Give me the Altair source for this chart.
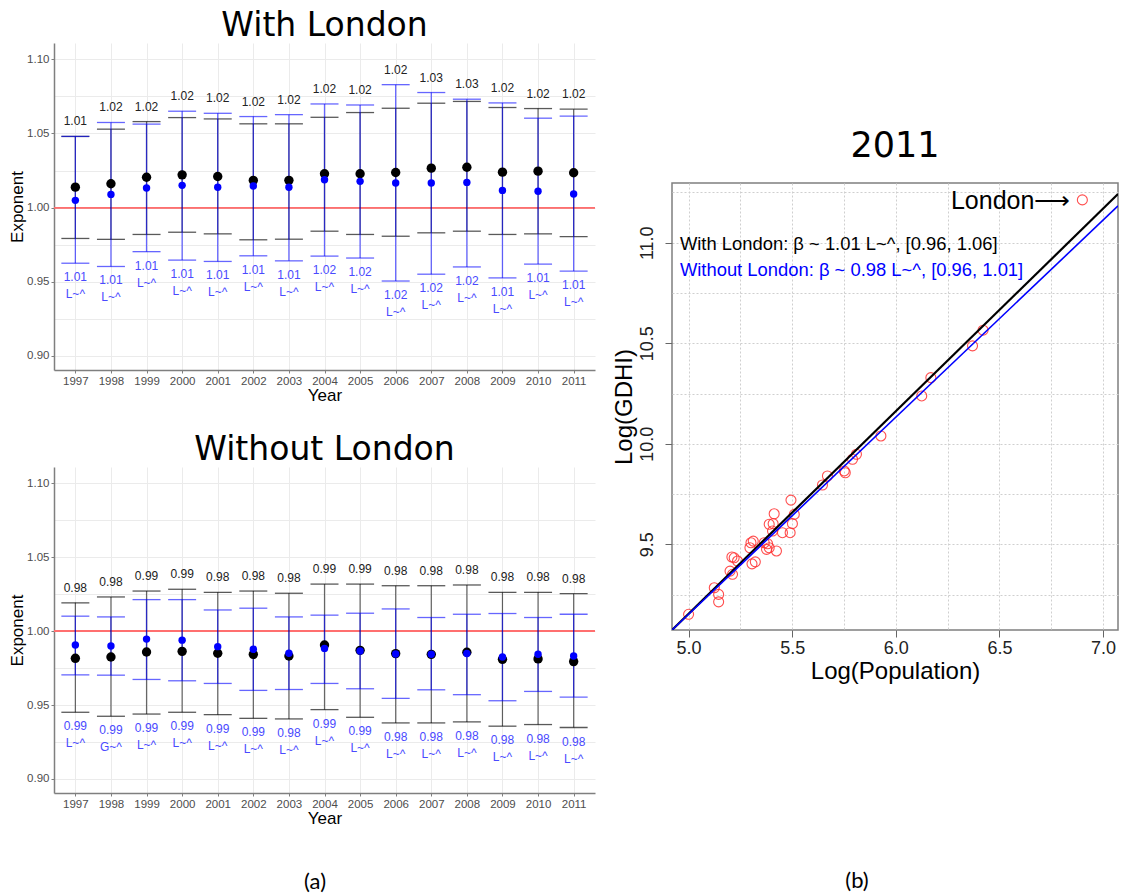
import altair as alt
import pandas as pd

FONT = "Liberation Sans"
TFONT = "DejaVu Sans"

# ---------------- data: panel (a) ----------------
years = list(range(1997, 2012))

# With London
wl_black_est = [1.0138, 1.0161, 1.0205, 1.0221, 1.0210, 1.0184, 1.0184, 1.0228, 1.0228, 1.0237, 1.0266, 1.0272, 1.0239, 1.0246, 1.0235]
wl_blue_est = [1.0049, 1.0089, 1.0132, 1.0150, 1.0137, 1.0146, 1.0137, 1.0188, 1.0177, 1.0166, 1.0166, 1.0170, 1.0116, 1.0110, 1.0092]
wl_black_hi = [1.0480, 1.0529, 1.0580, 1.0607, 1.0598, 1.0565, 1.0565, 1.0609, 1.0641, 1.0670, 1.0704, 1.0716, 1.0675, 1.0668, 1.0664]
wl_black_lo = [0.9792, 0.9786, 0.9819, 0.9834, 0.9823, 0.9783, 0.9787, 0.9841, 0.9819, 0.9807, 0.9830, 0.9841, 0.9819, 0.9823, 0.9805]
wl_blue_hi = [1.0480, 1.0574, 1.0563, 1.0650, 1.0636, 1.0614, 1.0627, 1.0699, 1.0692, 1.0829, 1.0776, 1.0731, 1.0706, 1.0603, 1.0617]
wl_blue_lo = [0.9625, 0.9603, 0.9703, 0.9646, 0.9637, 0.9675, 0.9641, 0.9673, 0.9660, 0.9505, 0.9551, 0.9600, 0.9526, 0.9619, 0.9572]
wl_top_lab = ["1.01", "1.02", "1.02", "1.02", "1.02", "1.02", "1.02", "1.02", "1.02", "1.02", "1.03", "1.03", "1.02", "1.02", "1.02"]
wl_bot_val = ["1.01", "1.01", "1.01", "1.01", "1.01", "1.01", "1.01", "1.02", "1.02", "1.02", "1.02", "1.02", "1.01", "1.01", "1.01"]
wl_bot_fit = ["L~^"] * 15

# Without London
wo_black_est = [0.9816, 0.9825, 0.9859, 0.9863, 0.9850, 0.9843, 0.9832, 0.9906, 0.9870, 0.9848, 0.9843, 0.9857, 0.9809, 0.9812, 0.9794]
wo_blue_est = [0.9906, 0.9899, 0.9946, 0.9939, 0.9895, 0.9877, 0.9850, 0.9883, 0.9865, 0.9845, 0.9843, 0.9848, 0.9825, 0.9843, 0.9832]
wo_black_hi = [1.0191, 1.0231, 1.0271, 1.0283, 1.0262, 1.0271, 1.0256, 1.0318, 1.0318, 1.0307, 1.0307, 1.0312, 1.0262, 1.0262, 1.0253]
wo_black_lo = [0.9451, 0.9424, 0.9439, 0.9451, 0.9435, 0.9410, 0.9406, 0.9469, 0.9417, 0.9379, 0.9379, 0.9386, 0.9357, 0.9368, 0.9348]
wo_blue_hi = [1.0101, 1.0096, 1.0213, 1.0213, 1.0143, 1.0155, 1.0096, 1.0108, 1.0121, 1.0150, 1.0092, 1.0114, 1.0119, 1.0092, 1.0114]
wo_blue_lo = [0.9704, 0.9702, 0.9673, 0.9664, 0.9646, 0.9599, 0.9605, 0.9646, 0.9610, 0.9545, 0.9603, 0.9570, 0.9529, 0.9592, 0.9554]
wo_top_lab = ["0.98", "0.98", "0.99", "0.99", "0.98", "0.98", "0.98", "0.99", "0.99", "0.98", "0.98", "0.98", "0.98", "0.98", "0.98"]
wo_bot_val = ["0.99", "0.99", "0.99", "0.99", "0.99", "0.99", "0.98", "0.99", "0.99", "0.98", "0.98", "0.98", "0.98", "0.98", "0.98"]
wo_bot_fit = ["L~^", "G~^"] + ["L~^"] * 13

ref_value = [1.0]
exp_ticks = [0.9, 0.925, 0.95, 0.975, 1.0, 1.025, 1.05, 1.075, 1.1]

# ---------------- data: panel (b) ----------------
log_pop = [5.000, 5.124, 5.145, 5.145, 5.200, 5.212, 5.209, 5.220, 5.236, 5.301,
           5.312, 5.296, 5.306, 5.322, 5.365, 5.376, 5.389, 5.381, 5.424, 5.389,
           5.408, 5.413, 5.405, 5.453, 5.490, 5.501, 5.510, 5.494, 5.646, 5.670,
           5.751, 5.756, 5.791, 5.810, 5.928, 6.125, 6.169, 6.370, 6.421, 6.900]
log_gdhi = [9.152, 9.284, 9.251, 9.214, 9.367, 9.351, 9.437, 9.433, 9.417, 9.508,
            9.516, 9.483, 9.403, 9.413, 9.508, 9.475, 9.483, 9.503, 9.467, 9.600,
            9.603, 9.652, 9.566, 9.558, 9.558, 9.603, 9.649, 9.720, 9.795, 9.840,
            9.865, 9.856, 9.923, 9.948, 10.039, 10.238, 10.329, 10.487, 10.565, 11.213]
region = ["other"] * 39 + ["London"]

fit_x = [4.92, 7.072]
fit_with_y = [9.074, 11.242]
fit_without_y = [9.074, 11.183]

ann_text = ["With London: \u03b2 ~ 1.01 L~^, [0.96, 1.06]",
            "Without London: \u03b2 ~ 0.98 L~^, [0.96, 1.01]"]
ann_x = [4.958, 4.958]
ann_y = [10.995, 10.862]
ann_color = ["black", "blue"]

pop_ticks = [5.0, 5.25, 5.5, 5.75, 6.0, 6.25, 6.5, 6.75, 7.0]
gdhi_ticks = [9.25, 9.5, 9.75, 10.0, 10.25, 10.5, 10.75, 11.0, 11.25]

# ---------------- panel (a) builder ----------------
XDOM = [1996.4, 2011.6]
YDOM = [0.8905, 1.111]


def exponent_panel(title, black_est, blue_est, black_hi, black_lo, blue_hi, blue_lo,
                   top_lab, bot_val, bot_fit, width, height):
    df = pd.DataFrame({
        "year": years, "black_est": black_est, "blue_est": blue_est,
        "black_hi": black_hi, "black_lo": black_lo, "blue_hi": blue_hi, "blue_lo": blue_lo,
        "top_lab": top_lab, "bot_val": bot_val, "bot_fit": bot_fit,
    })
    df["top_y"] = df[["black_hi", "blue_hi"]].max(axis=1)
    df["bot_y"] = df[["black_lo", "blue_lo"]].min(axis=1)
    df["bot_lab"] = df["bot_val"] + "\n" + df["bot_fit"]
    df["ref"] = ref_value * len(df)

    xs = alt.Scale(domain=XDOM, nice=False, zero=False)
    ys = alt.Scale(domain=YDOM, nice=False, zero=False)
    axis_common = dict(
        labelFont=FONT, labelFontSize=11.5, labelColor="#4d4d4d",
        titleFont=FONT, titleFontSize=17, titleFontWeight="normal", titleColor="black",
        domainColor="#7f7f7f", domainWidth=1.5, tickColor="#7f7f7f", tickSize=3,
        gridColor="#ebebeb", gridWidth=1, labelPadding=2,
    )
    xaxis = alt.Axis(values=years, format="d", title="Year", titlePadding=1,
                     labelFlush=False, labelOverlap=False, **axis_common)
    yaxis = alt.Axis(values=exp_ticks, title="Exponent", titlePadding=0,
                     labelExpr="(round(datum.value*40) % 2 == 0) ? format(datum.value, '.2f') : ''",
                     tickOpacity={"condition": {"test": "round(datum.value*40) % 2 != 0", "value": 0}, "value": 1},
                     **axis_common)

    base = alt.Chart(df)
    X = alt.X("year:Q", scale=xs, axis=xaxis)

    def Y(f):
        return alt.Y(f + ":Q", scale=ys, axis=yaxis)

    ref = base.mark_rule(color="#ff7070", strokeWidth=1).encode(y=Y("ref"))

    black_bar = base.mark_rule(color="black", opacity=0.6, strokeWidth=1.2).encode(
        x=X, y=Y("black_lo"), y2="black_hi")
    black_hi_t = base.mark_tick(orient="horizontal", size=28, thickness=1.3,
                                color="black", opacity=0.65).encode(x=X, y=Y("black_hi"))
    black_lo_t = base.mark_tick(orient="horizontal", size=28, thickness=1.3,
                                color="black", opacity=0.65).encode(x=X, y=Y("black_lo"))
    blue_bar = base.mark_rule(color="#0000ff", opacity=0.6, strokeWidth=1.3).encode(
        x=X, y=Y("blue_lo"), y2="blue_hi")
    blue_hi_t = base.mark_tick(orient="horizontal", size=28, thickness=1.3,
                               color="#0000ff", opacity=0.6).encode(x=X, y=Y("blue_hi"))
    blue_lo_t = base.mark_tick(orient="horizontal", size=28, thickness=1.3,
                               color="#0000ff", opacity=0.6).encode(x=X, y=Y("blue_lo"))
    black_pt = base.mark_circle(color="black", size=88, opacity=1).encode(x=X, y=Y("black_est"))
    blue_pt = base.mark_circle(color="#0000ff", size=55, opacity=1).encode(x=X, y=Y("blue_est"))

    top_txt = base.mark_text(font=FONT, fontSize=12, color="#222222", dy=-15,
                             baseline="middle").encode(x=X, y=Y("top_y"), text="top_lab:N")
    bot_txt = base.mark_text(font=FONT, fontSize=12, color="#4a4aff", dy=9, baseline="top",
                             lineBreak="\n", lineHeight=17).encode(x=X, y=Y("bot_y"), text="bot_lab:N")

    return alt.layer(ref, black_bar, black_hi_t, black_lo_t, blue_bar, blue_hi_t,
                     blue_lo_t, black_pt, blue_pt, top_txt, bot_txt).properties(
        width=width, height=height,
        title=alt.Title(title, font=TFONT, fontSize=33, fontWeight="normal", color="black",
                        anchor="middle", offset=0),
    )


top = exponent_panel("With London", wl_black_est, wl_blue_est, wl_black_hi, wl_black_lo,
                     wl_blue_hi, wl_blue_lo, wl_top_lab, wl_bot_val, wl_bot_fit, 541, 327)
bottom = exponent_panel("Without London", wo_black_est, wo_blue_est, wo_black_hi, wo_black_lo,
                        wo_blue_hi, wo_blue_lo, wo_top_lab, wo_bot_val, wo_bot_fit, 541, 326)

# ---------------- panel (b) ----------------
sdf = pd.DataFrame({"x": log_pop, "y": log_gdhi, "region": region})
fdf = pd.DataFrame({"x": fit_x * 2, "y": fit_with_y + fit_without_y,
                    "fit": ["with"] * 2 + ["without"] * 2})
adf = pd.DataFrame({"x": ann_x, "y": ann_y, "t": ann_text, "c": ann_color})

PXS = alt.Scale(domain=[4.92, 7.072], nice=False, zero=False)
PYS = alt.Scale(domain=[9.074, 11.297], nice=False, zero=False)
raxis_common = dict(
    labelFont=FONT, labelFontSize=18, labelColor="#222222",
    titleFont=FONT, titleFontSize=24, titleFontWeight="normal", titleColor="black",
    domain=False, tickColor="#666666", tickSize=7,
    gridColor="#cfcfcf", gridDash=[2, 2], gridWidth=1,
)
rx_axis = alt.Axis(values=pop_ticks, title="Log(Population)", labelPadding=2, titlePadding=2,
                   labelExpr="(round(datum.value*4) % 2 == 0) ? format(datum.value, '.1f') : ''",
                   tickOpacity={"condition": {"test": "round(datum.value*4) % 2 != 0", "value": 0}, "value": 1},
                   labelFlush=False, **raxis_common)
ry_axis = alt.Axis(values=gdhi_ticks, title="Log(GDHI)", labelPadding=9, titlePadding=2,
                   labelAngle=270, labelAlign="center", labelBaseline="bottom",
                   labelExpr="(round(datum.value*4) % 2 == 0) ? format(datum.value, '.1f') : ''",
                   tickOpacity={"condition": {"test": "round(datum.value*4) % 2 != 0", "value": 0}, "value": 1},
                   labelFlush=False, **raxis_common)
RX = alt.X("x:Q", scale=PXS, axis=rx_axis)
RY = alt.Y("y:Q", scale=PYS, axis=ry_axis)

pts = alt.Chart(sdf).mark_point(shape="circle", filled=False, size=100, color="#ff3030",
                                strokeWidth=1.1, opacity=0.85).encode(x=RX, y=RY)
lines = alt.Chart(fdf).mark_line(clip=True).encode(
    x=RX, y=RY,
    color=alt.Color("fit:N", scale=alt.Scale(domain=["with", "without"], range=["black", "#0000ff"]), legend=None),
    strokeWidth=alt.StrokeWidth("fit:N", scale=alt.Scale(domain=["with", "without"], range=[2.2, 1.6]), legend=None),
    order=alt.Order("fit:N"))
ann = alt.Chart(adf).mark_text(font=FONT, fontSize=18.4, align="left", baseline="middle").encode(
    x=RX, y=RY, text="t:N", color=alt.Color("c:N", scale=None))
london_lab = alt.Chart(sdf[sdf["region"] == "London"]).mark_text(
    font=FONT, fontSize=25, align="right", baseline="middle", dx=-12, dy=1, color="black").encode(
    x=RX, y=RY, text=alt.value("London\u27f6"))

right = alt.layer(pts, lines, ann, london_lab).properties(
    width=446, height=447,
    view=alt.ViewBackground(stroke="#7f7f7f", strokeWidth=1.5),
    title=alt.Title("2011", font=TFONT, fontSize=35, fontWeight="normal", color="black",
                    anchor="middle", offset=19),
)

spacer = alt.Chart(pd.DataFrame({"s": [0]})).mark_point(opacity=0).encode(
    x=alt.value(0), y=alt.value(0)).properties(width=1, height=85)

left_col = alt.vconcat(top, bottom, spacing=30).properties(
    title=alt.Title("(a)", orient="bottom", font="Lato", fontSize=22, fontWeight="normal",
                    color="black", anchor="middle", offset=45, dx=13))
right_col = alt.vconcat(spacer, right, spacing=0).properties(
    title=alt.Title("(b)", orient="bottom", font="Lato", fontSize=22, fontWeight="normal",
                    color="black", anchor="middle", offset=187, dx=-8))

chart = alt.hconcat(left_col, right_col, spacing=15).properties(
    padding={"left": 0, "top": 2, "right": 0, "bottom": 0},
    background="white",
).configure_view(strokeWidth=0)

chart.save("out.html", embed_options={"renderer": "svg", "actions": False})
